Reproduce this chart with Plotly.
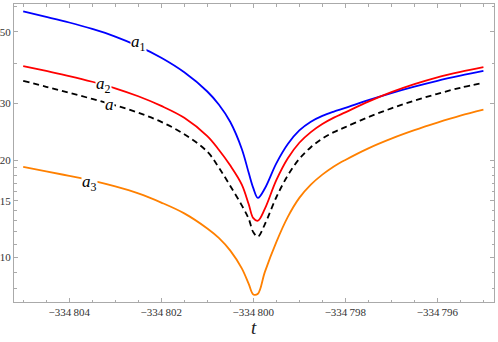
import plotly.graph_objects as go

# time offsets relative to t0 = -334800
t0 = -334800
u = [-5, -4.5, -4, -3.5, -3, -2.5, -2, -1.5, -1, -0.75, -0.5, -0.25, -0.1, 0, 0.1, 0.25, 0.5, 0.75,
     1, 1.25, 1.5, 1.75, 2, 2.5, 3, 3.5, 4, 4.5, 5]
t = [t0 + v for v in u]

a1 = [57.9, 55.7, 53.5, 51.1, 48.4, 45.2, 41.6, 37.5, 32.7, 29.8, 26.3, 21.7, 18.3, 16.4, 15.3, 16.36, 19.58, 22.48,
      24.76, 26.35, 27.47, 28.33, 29.08, 30.73, 32.33, 33.85, 35.29, 36.6, 37.85]
a2 = [39.2, 37.85, 36.5, 35.05, 33.45, 31.6, 29.5, 27.1, 23.77, 21.58, 19.28, 16.83, 14.62, 13.24, 13.0, 14.14, 17.36, 20.30,
      22.68, 24.47, 25.92, 27.13, 28.18, 30.41, 32.54, 34.46, 36.19, 37.63, 38.92]
a_ = [35.3, 33.81, 32.40, 31.01, 29.62, 28.10, 26.33, 24.10, 21.28, 19.01, 16.66, 14.50, 13.18, 11.97, 11.6, 12.67, 15.37, 17.97,
      20.22, 21.97, 23.37, 24.47, 25.36, 27.24, 28.98, 30.63, 32.15, 33.58, 34.8]
a3 = [19.1, 18.5, 17.9, 17.3, 16.6, 15.8, 14.8, 13.7, 12.3, 11.5, 10.5, 9.25, 8.28, 7.68, 7.72, 9.01, 11.16, 13.36,
      15.30, 16.82, 18.06, 19.15, 20.06, 21.79, 23.35, 24.80, 26.17, 27.50, 28.71]

x_tickvals = [-334804, -334802, -334800, -334798, -334796]
x_ticktext = ["\u2212334\u2009804", "\u2212334\u2009802", "\u2212334\u2009800", "\u2212334\u2009798", "\u2212334\u2009796"]
y_tickvals = [10, 15, 20, 30, 50]
y_ticktext = ["10", "15", "20", "30", "50"]
y_minor = [8, 9, 11, 12, 13, 14, 16, 17, 18, 19, 40, 60]

fig = go.Figure()
common_line = dict(width=1.8, shape="spline", smoothing=1.0)
fig.add_trace(go.Scatter(x=t, y=a1, mode="lines", line=dict(color="#0000ff", **common_line)))
fig.add_trace(go.Scatter(x=t, y=a2, mode="lines", line=dict(color="#ff0000", **common_line)))
fig.add_trace(go.Scatter(x=t, y=a_, mode="lines", line=dict(color="#000000", dash="6px,4px", **common_line)))
fig.add_trace(go.Scatter(x=t, y=a3, mode="lines", line=dict(color="#ff8000", **common_line)))

serif = "Liberation Serif, DejaVu Serif, serif"
labels = [("<i>a</i><sub>1</sub>", -334802.50, 1.664),
          ("<i>a</i><sub>2</sub>", -334803.25, 1.5345),
          ("<i>a</i>", -334803.12, 1.4729),
          ("<i>a</i><sub>3</sub>", -334803.55, 1.2323)]
for txt, xx, yy in labels:
    fig.add_annotation(x=xx, y=yy, text=txt, showarrow=False, bgcolor="white",
                       font=dict(family=serif, size=17, color="black"), borderpad=0)

# axis title as an annotation below the frame
fig.add_annotation(x=0.5, y=0, xref="paper", yref="paper", yanchor="middle", yshift=-25,
                   text="<i>t</i>", showarrow=False, font=dict(family=serif, size=19, color="#222222"))

axis_common = dict(showline=True, mirror="allticks", linecolor="#aaaaaa", linewidth=1,
                   ticks="inside", tickcolor="#aaaaaa", showgrid=False, zeroline=False,
                   automargin=False,
                   tickfont=dict(family=serif, size=11, color="#333333"))

fig.update_layout(
    width=498, height=342,
    margin=dict(l=14, r=4, t=4, b=40),
    paper_bgcolor="white", plot_bgcolor="white",
    showlegend=False,
    xaxis=dict(range=[-334805.2, -334794.77], tickmode="array", tickvals=x_tickvals,
               ticktext=x_ticktext, ticklen=4,
               minor=dict(dtick=0.5, tick0=-334800, ticks="inside", ticklen=2.5, tickcolor="#aaaaaa"),
               **axis_common),
    yaxis=dict(type="log", range=[0.862, 1.7857], tickmode="array", tickvals=y_tickvals,
               ticktext=y_ticktext, ticklen=4,
               minor=dict(tickmode="array", tickvals=y_minor, ticks="inside", ticklen=2.5, tickcolor="#aaaaaa"),
               **axis_common),
)

fig.write_html("out.html", config={"displayModeBar": False},
               post_script="document.body.style.margin='0px';")
